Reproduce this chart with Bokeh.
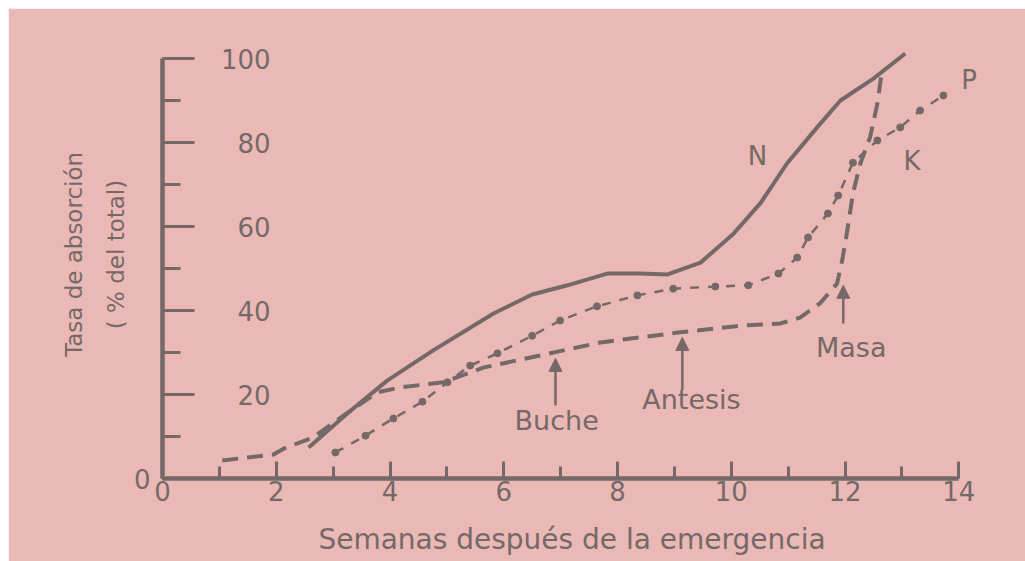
from bokeh.plotting import figure
from bokeh.layouts import row, column
from bokeh.models import (Range1d, SingleIntervalTicker, Arrow, NormalHead,
                          ColumnDataSource, Spacer)
from bokeh.core.properties import value
from bokeh.embed import file_html
from bokeh.resources import INLINE

# ---- data (weeks after emergence, % of total uptake) ----
n_weeks = [2.57, 3.25, 3.95, 4.76, 5.82, 6.5, 7.12, 7.82, 8.4, 8.88, 9.46, 10.04,
           10.51, 10.98, 11.51, 11.92, 12.5, 13.06]
n_pct = [7.4, 15.5, 23.3, 30.5, 39.3, 43.8, 46.0, 48.8, 48.8, 48.6, 51.4, 58.3,
         65.5, 75.0, 83.6, 90.0, 95.2, 101.2]

p_weeks = [3.04, 3.57, 4.06, 4.57, 5.01, 5.41, 5.89, 6.50, 6.99, 7.64, 8.35, 8.98,
           9.72, 10.30, 10.83, 11.16, 11.35, 11.70, 11.88, 12.14, 12.57, 12.97,
           13.32, 13.73]
p_pct = [6.2, 10.2, 14.3, 18.3, 22.9, 26.9, 29.8, 34.0, 37.6, 41.0, 43.6, 45.2,
         45.7, 46.0, 48.8, 52.6, 57.4, 63.1, 67.4, 75.2, 80.5, 83.6, 87.6, 91.2]

k_weeks = [1.05, 1.95, 2.13, 2.65, 3.13, 3.78, 4.18, 4.94, 5.64, 6.64, 7.70, 9.10,
           10.16, 10.86, 11.21, 11.56, 11.86, 11.95, 12.04, 12.14, 12.27, 12.44,
           12.57, 12.65]
k_pct = [4.3, 5.7, 7.1, 9.8, 14.5, 20.5, 21.7, 22.9, 26.4, 29.3, 32.4, 34.8,
         36.4, 36.9, 38.3, 41.7, 46.4, 51.9, 59.0, 67.9, 75.0, 81.2, 89.3, 97.1]

curve_names = ["N", "K", "P"]
curve_name_x = [10.46, 13.18, 14.18]
curve_name_y = [76.9, 75.7, 94.8]

stage_names = ["Buche", "Antesis", "Masa"]
stage_week = [6.91, 9.14, 11.97]
stage_arrow_from = [17.4, 21.0, 36.9]
stage_arrow_to = [28.6, 33.6, 46.0]
stage_label_x = [6.93, 9.30, 12.11]
stage_label_y = [13.8, 18.8, 31.2]

y_tick_values = [20, 40, 60, 80, 100]
y_tick_labels = ["20", "40", "60", "80", "100"]

x_title = "Semanas después de la emergencia"
y_title = "Tasa de absorción\n( % del total)"

# ---- styling ----
BG = "#EAB9B6"
INK = "#756967"
FONT = "DejaVu Sans"

p = figure(width=1017, height=553, output_backend="svg", toolbar_location=None,
           x_range=Range1d(0, 14.4), y_range=Range1d(0, 106.67),
           min_border_left=154, min_border_right=44, min_border_top=22,
           min_border_bottom=83)
p.background_fill_color = BG
p.border_fill_color = BG
p.outline_line_color = BG
p.outline_line_width = 2
p.xgrid.visible = False
p.ygrid.visible = False

# x axis
xa = p.xaxis[0]
xa.ticker = SingleIntervalTicker(interval=2, num_minor_ticks=2)
xa.bounds = (0, 14)
xa.axis_line_color = INK
xa.axis_line_width = 4.5
xa.major_tick_line_color = INK
xa.major_tick_line_width = 3
xa.major_tick_in = 17
xa.major_tick_out = 0
xa.minor_tick_line_color = INK
xa.minor_tick_line_width = 3
xa.minor_tick_in = 12
xa.minor_tick_out = 0
xa.major_label_text_font = FONT
xa.major_label_text_font_size = "26px"
xa.major_label_text_color = INK
xa.major_label_standoff = 2
xa.axis_label = x_title
xa.axis_label_text_font = FONT
xa.axis_label_text_font_size = "28px"
xa.axis_label_text_font_style = "normal"
xa.axis_label_text_color = INK
xa.axis_label_standoff = 19

# y axis (only "0" is drawn outside; other labels sit inside the frame)
ya = p.yaxis[0]
ya.ticker = SingleIntervalTicker(interval=20, num_minor_ticks=2)
ya.bounds = (0, 100)
ya.axis_line_color = INK
ya.axis_line_width = 4.5
ya.major_tick_line_color = INK
ya.major_tick_line_width = 3
ya.major_tick_in = 32
ya.major_tick_out = 0
ya.minor_tick_line_color = INK
ya.minor_tick_line_width = 3
ya.minor_tick_in = 18
ya.minor_tick_out = 0
ya.major_label_overrides = {v: "" for v in y_tick_values}
ya.major_label_text_font = FONT
ya.major_label_text_font_size = "26px"
ya.major_label_text_color = INK
ya.major_label_standoff = 12
ya.axis_label = y_title
ya.axis_label_text_font = FONT
ya.axis_label_text_font_size = "23px"
ya.axis_label_text_font_style = "normal"
ya.axis_label_text_color = INK
ya.axis_label_text_line_height = 1.6
ya.axis_label_standoff = 2

p.text(x=1.9, y=y_tick_values, text=y_tick_labels, text_align="right",
       text_baseline="middle", text_font=value(FONT), text_font_size="26px",
       text_color=INK)

# curves
p.line(n_weeks, n_pct, line_color=INK, line_width=4, line_join="round")
p.line(k_weeks, k_pct, line_color=INK, line_width=4, line_dash="16 9")
p.line(p_weeks, p_pct, line_color=INK, line_width=2.5, line_dash="9 9")
p.scatter(p_weeks, p_pct, size=7, color=INK)

# stage arrows
arrows = ColumnDataSource(dict(x=stage_week, y0=stage_arrow_from, y1=stage_arrow_to))
p.add_layout(Arrow(end=NormalHead(size=13, fill_color=INK, line_color=INK),
                   x_start="x", y_start="y0", x_end="x", y_end="y1",
                   line_color=INK, line_width=2.5, source=arrows))

p.text(x=stage_label_x, y=stage_label_y, text=stage_names, text_align="center",
       text_baseline="middle", text_font=value(FONT), text_font_size="27px",
       text_color=INK)

p.text(x=curve_name_x, y=curve_name_y, text=curve_names, text_align="center",
       text_baseline="middle", text_font=value(FONT), text_font_size="26px",
       text_color=INK)

layout = row(Spacer(width=8), column(Spacer(height=8), p))
open("out.html", "w").write(file_html(layout, INLINE))
